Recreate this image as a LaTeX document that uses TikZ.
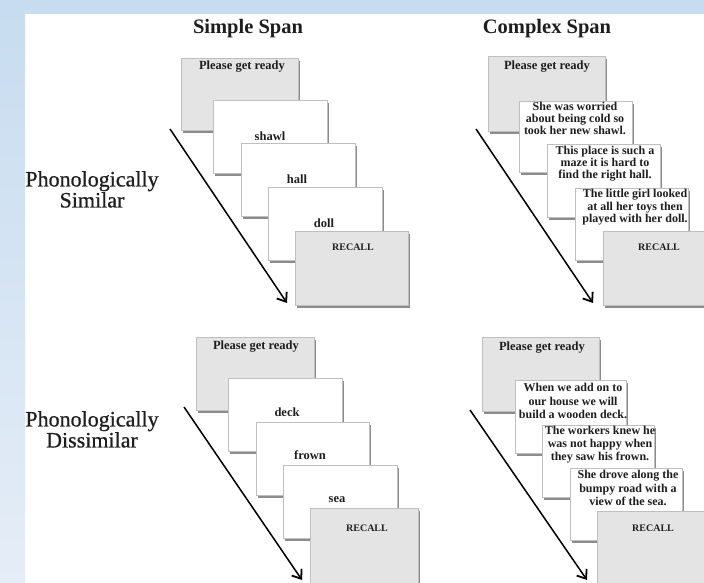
\documentclass[tikz,border=0pt]{standalone}
\usepackage{fontspec}
\setmainfont{Liberation Serif}
\newfontfamily\labelfont[FakeBold=0.6]{Liberation Serif}
\usetikzlibrary{arrows.meta,shadows}

\definecolor{bandtop}{RGB}{199,220,240}
\definecolor{bandlow}{RGB}{229,237,247}
\definecolor{cardgray}{RGB}{228,228,228}
\definecolor{ink}{RGB}{30,30,30}

\tikzset{
  card/.style={draw=black!25, line width=0.4pt, anchor=north west, inner sep=0pt,
    minimum width=114pt, minimum height=73pt,
    drop shadow={shadow xshift=1.3pt, shadow yshift=-2.6pt, fill=black!60, opacity=0.75}},
  graycard/.style={card, fill=cardgray},
  whitecard/.style={card, fill=white},
  cardword/.style={inner sep=0pt, text=ink, font=\bfseries\fontsize{12.5}{13}\selectfont},
  recallword/.style={inner sep=0pt, text=ink, font=\bfseries\fontsize{10}{12}\selectfont},
  sentence/.style={inner sep=0pt, anchor=north, align=center, text=ink},
  coltitle/.style={inner sep=0pt, anchor=base, text=ink, font=\bfseries\fontsize{20.5}{22}\selectfont},
  rowlabel/.style={inner sep=0pt, anchor=north, align=center, text=ink, font=\labelfont\fontsize{22}{21}\selectfont},
  timeline/.style={draw=black, line width=1.5pt, -{Straight Barb[length=8pt,width=12pt,line width=1.8pt]}}
}

\begin{document}
\begin{tikzpicture}[x=1pt,y=-1pt]
\useasboundingbox (0,0) rectangle (704,583);
\clip (0,0) rectangle (704,583);

% page background and the light blue frame
\fill[white] (0,0) rectangle (704,583);
\shade[top color=bandtop, bottom color=bandlow] (0,0) rectangle (25,583);
\fill[bandtop] (0,0) rectangle (704,14);

% column titles
\node[coltitle] (simple) at (248,34) {Simple Span};
\node[coltitle] (complex) at (547,34) {Complex Span};

% row labels
\node[rowlabel] (similar) at (92,171) {Phonologically\\Similar};
\node[rowlabel] (dissimilar) at (92,411) {Phonologically\\Dissimilar};

% time arrows
\coordinate (sa0) at (170,129);  \coordinate (sa9) at (287,303);
\coordinate (ca0) at (476,129);  \coordinate (ca9) at (593,303);
\coordinate (sb0) at (184,407);  \coordinate (sb9) at (302,580);
\coordinate (cb0) at (470,410);  \coordinate (cb9) at (587,580);
\draw[timeline] (sa0) -- (sa9);
\draw[timeline] (ca0) -- (ca9);
\draw[timeline] (sb0) -- (sb9);
\draw[timeline] (cb0) -- (cb9);

% ---------- simple span, similar ----------
\node[graycard, minimum width=117pt, minimum height=72pt] (sa1) at (181,58) {};
\node[cardword] (sa1t) at (242,67) {Please get ready};
\node[whitecard] (sa2) at (213,100) {};
\node[cardword] (sa2t) at (270,136) {shawl};
\node[whitecard] (sa3) at (241,143) {};
\node[cardword] (sa3t) at (297,179) {hall};
\node[whitecard] (sa4) at (268,187) {};
\node[cardword] (sa4t) at (324,223) {doll};
\node[graycard, minimum width=113pt, minimum height=74pt] (sa5) at (295,231) {};
\node[recallword] (sa5t) at (353,247) {RECALL};

% ---------- complex span, similar ----------
\node[graycard, minimum width=117pt, minimum height=75pt] (ca1) at (488,56) {};
\node[cardword] (ca1t) at (547,67) {Please get ready};
\node[whitecard, minimum width=113pt, minimum height=71pt] (ca2) at (519,101) {};
\node[sentence, font=\bfseries\fontsize{12}{12}\selectfont] (ca2t) at (575,102)
  {She was worried\\about being cold so\\took her new shawl.};
\node[whitecard, minimum width=113pt] (ca3) at (547,144) {};
\node[sentence, font=\bfseries\fontsize{12}{12}\selectfont] (ca3t) at (605,146)
  {This place is such a\\maze it is hard to\\find the right hall.};
\node[whitecard, minimum width=113pt, minimum height=72pt] (ca4) at (575,188) {};
\node[sentence, font=\bfseries\fontsize{12}{12.5}\selectfont] (ca4t) at (635,189)
  {The little girl looked\\at all her toys then\\played with her doll.};
\node[graycard, minimum width=115pt, minimum height=74pt] (ca5) at (603,231) {};
\node[recallword] (ca5t) at (659,247) {RECALL};

% ---------- simple span, dissimilar ----------
\node[graycard, minimum width=118pt, minimum height=73pt] (sb1) at (196,337) {};
\node[cardword] (sb1t) at (256,347) {Please get ready};
\node[whitecard] (sb2) at (228,378) {};
\node[cardword] (sb2t) at (287,412) {deck};
\node[whitecard, minimum width=113pt] (sb3) at (256,422) {};
\node[cardword] (sb3t) at (310,455) {frown};
\node[whitecard] (sb4) at (283,465) {};
\node[cardword] (sb4t) at (337,500) {sea};
\node[graycard, minimum width=108pt, minimum height=80pt] (sb5) at (310,508) {};
\node[recallword] (sb5t) at (367,528) {RECALL};

% ---------- complex span, dissimilar ----------
\node[graycard, minimum width=117pt, minimum height=74pt] (cb1) at (482,337) {};
\node[cardword] (cb1t) at (542,348) {Please get ready};
\node[whitecard, minimum width=111pt] (cb2) at (515,380) {};
\node[sentence, font=\bfseries\fontsize{12}{13.5}\selectfont] (cb2t) at (573,383)
  {When we add on to\\our house we will\\build a wooden deck.};
\node[whitecard, minimum width=112pt, minimum height=72pt] (cb3) at (542,425) {};
\node[sentence, font=\bfseries\fontsize{12}{13}\selectfont] (cb3t) at (600,426)
  {The workers knew he\\was not happy when\\they saw his frown.};
\node[whitecard, minimum width=112pt, minimum height=72pt] (cb4) at (570,468) {};
\node[sentence, font=\bfseries\fontsize{12}{13.5}\selectfont] (cb4t) at (628,470)
  {She drove along the\\bumpy road with a\\view of the sea.};
\node[graycard, minimum width=115pt, minimum height=80pt] (cb5) at (597,511) {};
\node[recallword] (cb5t) at (653,528) {RECALL};

\end{tikzpicture}
\end{document}
